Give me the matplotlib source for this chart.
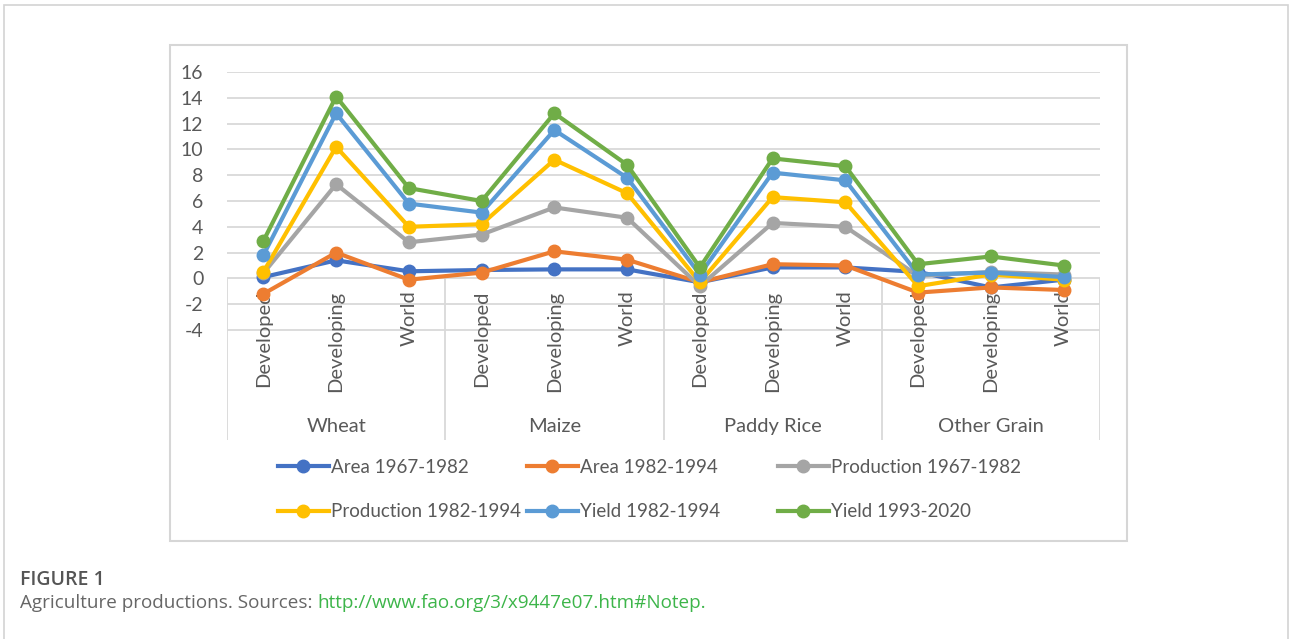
import matplotlib
matplotlib.use("Agg")
import matplotlib.pyplot as plt
from matplotlib.patches import Rectangle
from matplotlib.lines import Line2D

plt.rcParams['font.family'] = ['Lato', 'DejaVu Sans']

# data
groups = ['Wheat', 'Maize', 'Paddy Rice', 'Other Grain']
regions = ['Developed', 'Developing', 'World']
series_names = ['Area 1967-1982', 'Area 1982-1994', 'Production 1967-1982',
                'Production 1982-1994', 'Yield 1982-1994', 'Yield 1993-2020']
area_67_82 = [0.1, 1.4, 0.55, 0.65, 0.7, 0.7, -0.3, 0.85, 0.85, 0.5, -0.7, -0.1]
area_82_94 = [-1.2, 2.0, -0.1, 0.45, 2.1, 1.45, -0.3, 1.1, 1.0, -1.1, -0.7, -0.9]
prod_67_82 = [0.4, 7.3, 2.8, 3.4, 5.5, 4.7, -0.6, 4.3, 4.0, 0.2, 0.5, 0.3]
prod_82_94 = [0.5, 10.2, 4.0, 4.2, 9.2, 6.6, -0.3, 6.3, 5.9, -0.6, 0.3, -0.1]
yield_82_94 = [1.8, 12.8, 5.8, 5.1, 11.5, 7.8, 0.3, 8.2, 7.6, 0.3, 0.45, 0.1]
yield_93_20 = [2.9, 14.1, 7.0, 6.0, 12.8, 8.8, 0.85, 9.3, 8.7, 1.1, 1.7, 1.0]
yticks = list(range(-4, 17, 2))

series = [area_67_82, area_82_94, prod_67_82, prod_82_94, yield_82_94, yield_93_20]
colors = ['#4472C4', '#ED7D31', '#A5A5A5', '#FFC000', '#5B9BD5', '#70AD47']

W, H = 1290, 639
def fx(px):
    return px / W
def fy(py):
    return 1 - py / H

fig = plt.figure(figsize=(W / 100, H / 100), dpi=100)

# outer page frame and the pasted chart box
fig.add_artist(Rectangle((fx(4), fy(700)), fx(1288) - fx(4), fy(5) - fy(700),
                         transform=fig.transFigure, fill=False, ec='#D3D3D3', lw=1.2))
fig.add_artist(Rectangle((fx(170), fy(541)), fx(1127) - fx(170), fy(45) - fy(541),
                         transform=fig.transFigure, fill=False, ec='#D6D6D6', lw=1.5))

# axes: value 16 at y=72px, -4 at y=330px, category table down to y=440px
ybot = -4 - (440 - 330) * 20 / (330 - 72)
ax = fig.add_axes([fx(227), fy(440), fx(1100) - fx(227), fy(72) - fy(440)])
ax.set_xlim(-0.5, 11.5)
ax.set_ylim(ybot, 16)
for s in ax.spines.values():
    s.set_visible(False)
ax.set_xticks([])
ax.set_yticks(yticks)
ax.set_yticklabels([str(v) for v in yticks])
ax.tick_params(axis='y', length=0, pad=17, labelsize=14, labelcolor='#595959')
ax.set_axisbelow(True)
ax.yaxis.grid(True, color='#D9D9D9', lw=1.3)

# multi-level category axis
n = len(groups) * len(regions)
ax.vlines([g * len(regions) - 0.5 for g in range(len(groups) + 1)], ybot, 0,
          color='#D9D9D9', lw=1.3, zorder=0.5)
for i in range(n):
    ax.text(i, -0.95, regions[i % 3], rotation=90, ha='center', va='top',
            fontsize=14.5, color='#595959')
for g, name in enumerate(groups):
    ax.text(g * 3 + 1, -11.5, name, ha='center', va='center',
            fontsize=14.5, color='#595959')

x = list(range(n))
for vals, c, name in zip(series, colors, series_names):
    ax.plot(x, vals, '-o', color=c, lw=3, ms=9, label=name, clip_on=False,
            solid_joinstyle='round', zorder=3)

# legend, three columns of two rows
cols = [(278, [0, 3]), (527, [1, 4]), (778, [2, 5])]
for x0, idx in cols:
    hs = [Line2D([], [], color=colors[k], lw=3, marker='o', ms=9) for k in idx]
    fig.legend(hs, [series_names[k] for k in idx], loc='upper left',
               bbox_to_anchor=(fx(x0), fy(459)), frameon=False, borderpad=0,
               borderaxespad=0, handlelength=2.7, handletextpad=0.12,
               labelspacing=1.45, fontsize=13.5, labelcolor='#595959')

# caption
fig.text(fx(20), fy(580), 'FIGURE 1', fontsize=14, fontweight='semibold',
         color='#555555', va='center', ha='left', family=['Open Sans', 'DejaVu Sans'])
t = fig.text(fx(20), fy(603), 'Agriculture productions. Sources: ', fontsize=13.6,
             color='#666666', va='center', ha='left', family=['Open Sans', 'DejaVu Sans'])
ax.annotate('http://www.fao.org/3/x9447e07.htm#Notep.', xy=(1, 0.5), xycoords=t,
            va='center', ha='left', fontsize=13.6, color='#3DB54A',
            annotation_clip=False, family=['Open Sans', 'DejaVu Sans'])

fig.savefig('out.png', dpi=100)
